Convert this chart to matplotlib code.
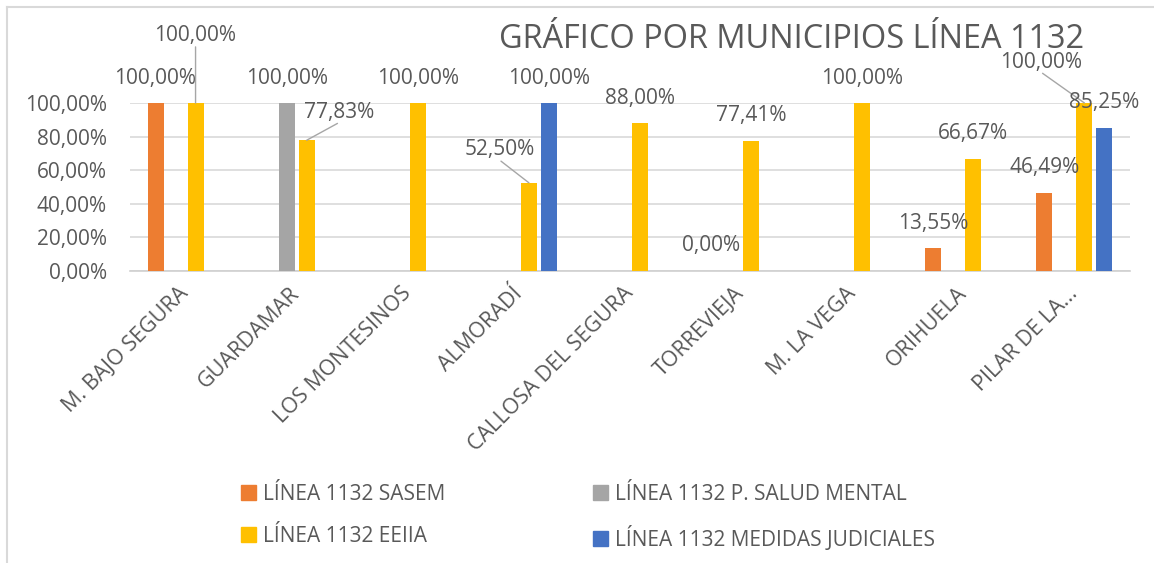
import numpy as np
import matplotlib
matplotlib.use('Agg')
from matplotlib import pyplot as plt
from matplotlib.patches import Patch
from matplotlib.lines import Line2D

matplotlib.rcParams['font.family'] = ['Open Sans', 'DejaVu Sans']

municipios = ['M. BAJO SEGURA', 'GUARDAMAR', 'LOS MONTESINOS', 'ALMORADÍ',
              'CALLOSA DEL SEGURA', 'TORREVIEJA', 'M. LA VEGA', 'ORIHUELA',
              'PILAR DE LA...']
series_names = ['LÍNEA 1132 SASEM', 'LÍNEA 1132 P. SALUD MENTAL',
                'LÍNEA 1132 EEIIA', 'LÍNEA 1132 MEDIDAS JUDICIALES']
nan = np.nan
sasem = [100.00, nan, nan, nan, nan, 0.00, nan, 13.55, 46.49]
salud_mental = [nan, 100.00, nan, nan, nan, nan, nan, nan, nan]
eeiia = [100.00, 77.83, 100.00, 52.50, 88.00, 77.41, 100.00, 66.67, 100.00]
medidas = [nan, nan, nan, 100.00, nan, nan, nan, nan, 85.25]
yticks = [0, 20, 40, 60, 80, 100]

colors = ['#ED7D31', '#A5A5A5', '#FFC000', '#4472C4']
txt_color = '#595959'

# labels moved away from the bar end (series, category) -> offset pixels
moved = {(2, 0): (0, 68), (2, 1): (32, 28), (2, 3): (-29, 33), (2, 8): (-43, 41)}

W, H = 1154, 563
fig = plt.figure(figsize=(W / 100, H / 100), dpi=100)
ax = fig.add_axes([130 / W, (H - 271) / H, 1000 / W, 168 / H])

x = np.arange(len(municipios))
offsets = np.array([-30, -10, 10, 30]) / 111.1
bw = 16 / 111.1

for i, vals in enumerate([sasem, salud_mental, eeiia, medidas]):
    vals = np.array(vals, dtype=float)
    xs = x + offsets[i]
    ax.bar(xs, vals, width=bw, color=colors[i], zorder=3)
    for j, v in enumerate(vals):
        if np.isnan(v):
            continue
        lab = f"{v:.2f}".replace('.', ',') + '%'
        if (i, j) in moved:
            dx, dy = moved[(i, j)]
            ax.annotate(lab, (xs[j], v), xytext=(dx, dy), textcoords='offset pixels',
                        ha='center', va='center', fontsize=15, color=txt_color,
                        annotation_clip=False, zorder=5,
                        arrowprops=dict(arrowstyle='-', color='#A6A6A6', lw=1,
                                        relpos=(0.5, 0), patchA=None,
                                        shrinkA=1, shrinkB=0))
        else:
            ax.annotate(lab, (xs[j], v), xytext=(0, 25), textcoords='offset pixels',
                        ha='center', va='center', fontsize=15, color=txt_color,
                        annotation_clip=False, zorder=5)

ax.set_xlim(-0.5, len(municipios) - 0.5)
ax.set_ylim(0, 100)
ax.set_yticks(yticks)
ax.set_yticklabels([f"{t:.2f}".replace('.', ',') + '%' for t in yticks],
                   fontsize=15, color=txt_color)
ax.set_xticks(x)
ax.set_xticklabels(municipios, rotation=45, ha='right', va='center',
                   rotation_mode='anchor', fontsize=15.5, color=txt_color)
ax.tick_params(axis='both', length=0)
ax.tick_params(axis='x', pad=14)
ax.tick_params(axis='y', pad=16.5)
ax.grid(axis='y', color='#D9D9D9', lw=1.2, zorder=0)
for s in ['top', 'right', 'left']:
    ax.spines[s].set_visible(False)
ax.spines['bottom'].set_color('#D0D0D0')
ax.spines['bottom'].set_linewidth(1.2)

fig.text(792 / W, 1 - 39 / H, 'GRÁFICO POR MUNICIPIOS LÍNEA 1132',
         ha='center', va='center', fontsize=23.4, color=txt_color)

handles = [Patch(color=colors[k], label=series_names[k]) for k in [0, 2, 1, 3]]
fig.legend(handles=handles, loc='upper left', bbox_to_anchor=(241 / W, 1 - 484 / H),
           ncol=2, frameon=False, fontsize=15, handlelength=0.7, handleheight=0.7,
           handletextpad=0.35, columnspacing=7.1, labelspacing=1.0, borderpad=0,
           borderaxespad=0, labelcolor=txt_color)

fig.add_artist(Line2D([7 / W, 7 / W], [0, 1 - 7 / H], color='#D9D9D9', lw=1.5))
fig.add_artist(Line2D([7 / W, 1], [1 - 7 / H, 1 - 7 / H], color='#D9D9D9', lw=1.5))

fig.savefig('out.png', dpi=100)
